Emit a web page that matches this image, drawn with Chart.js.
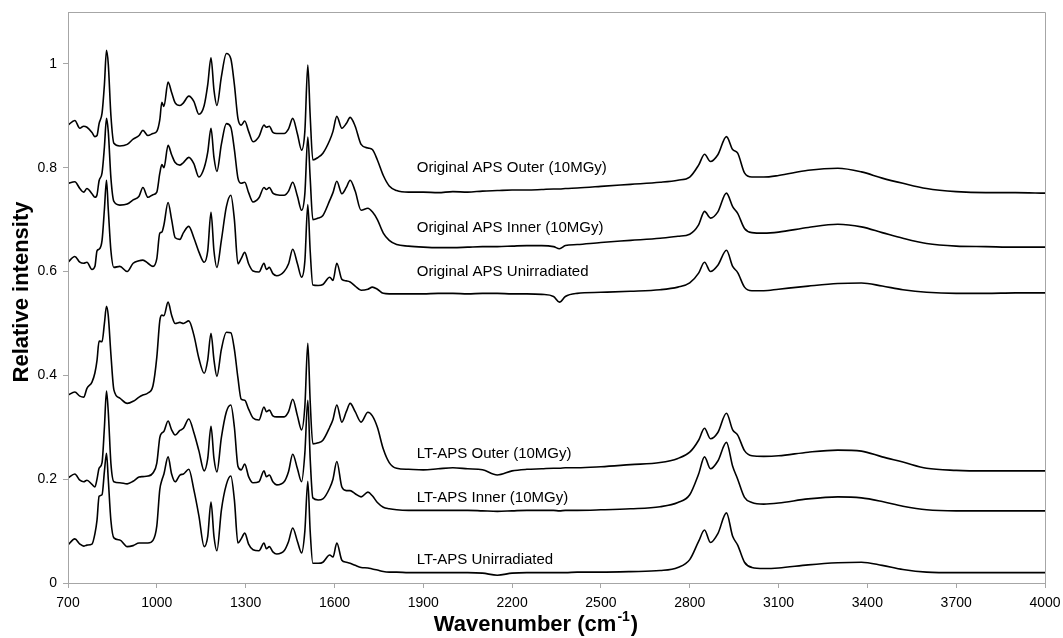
<!DOCTYPE html>
<html>
<head>
<meta charset="utf-8">
<script src="https://cdn.jsdelivr.net/npm/chart.js@4/dist/chart.umd.min.js"></script>
<style>
html,body{margin:0;padding:0;background:#fff;}
canvas{display:block;}
</style>
</head>
<body>
<canvas id="c" width="1063" height="638"></canvas>
<script>
// Wavenumber grid (cm-1)
const wavenumbers = [700,723,740,753,764,781,791,798,805,815,823,830,836,845,855,875,900,920,940,953,970,987,1000,1010,1017,1024,1038,1050,1062,1078,1090,1108,1125,1142,1160,1172,1183,1193,1203,1218,1235,1250,1262,1274,1285,1297,1310,1325,1345,1362,1370,1380,1392,1405,1430,1445,1459,1475,1489,1500,1510,1518,1527,1545,1561,1584,1595,1608,1625,1640,1653,1670,1690,1713,1728,1745,1765,1785,1810,1850,1900,1950,2000,2050,2100,2150,2200,2250,2300,2340,2360,2380,2420,2500,2600,2700,2760,2800,2830,2850,2870,2895,2924,2945,2962,2985,3010,3050,3100,3200,3300,3380,3450,3520,3600,3700,3800,3900,4000];

const origOuter = [0.882,0.891,0.876,0.880,0.878,0.868,0.860,0.862,0.885,0.905,0.960,1.026,1.000,0.900,0.847,0.842,0.845,0.855,0.862,0.872,0.862,0.866,0.870,0.892,0.926,0.918,0.965,0.945,0.925,0.920,0.925,0.938,0.928,0.903,0.920,0.960,1.012,0.950,0.920,0.975,1.020,1.010,0.960,0.895,0.882,0.890,0.870,0.850,0.860,0.882,0.878,0.880,0.868,0.866,0.866,0.875,0.895,0.865,0.834,0.870,0.998,0.900,0.815,0.820,0.828,0.853,0.870,0.899,0.876,0.885,0.897,0.880,0.845,0.838,0.835,0.815,0.785,0.765,0.756,0.753,0.753,0.752,0.754,0.753,0.755,0.756,0.757,0.757,0.758,0.759,0.759,0.760,0.761,0.764,0.768,0.772,0.776,0.782,0.805,0.826,0.812,0.825,0.860,0.835,0.828,0.790,0.782,0.782,0.785,0.795,0.799,0.792,0.780,0.770,0.760,0.754,0.752,0.752,0.751];

const origInner = [0.770,0.773,0.760,0.753,0.760,0.750,0.743,0.748,0.775,0.790,0.840,0.895,0.870,0.780,0.735,0.728,0.730,0.738,0.745,0.762,0.743,0.748,0.753,0.789,0.806,0.800,0.843,0.825,0.810,0.805,0.810,0.820,0.808,0.782,0.800,0.830,0.876,0.820,0.793,0.845,0.885,0.878,0.835,0.780,0.770,0.772,0.752,0.734,0.742,0.762,0.758,0.762,0.751,0.748,0.747,0.755,0.772,0.745,0.718,0.750,0.859,0.780,0.700,0.703,0.708,0.737,0.752,0.774,0.750,0.762,0.776,0.755,0.718,0.722,0.715,0.700,0.674,0.660,0.652,0.649,0.647,0.646,0.646,0.647,0.648,0.648,0.649,0.650,0.650,0.648,0.644,0.650,0.652,0.656,0.660,0.664,0.668,0.672,0.690,0.716,0.703,0.715,0.751,0.725,0.712,0.683,0.675,0.674,0.676,0.685,0.691,0.686,0.675,0.664,0.654,0.649,0.648,0.647,0.647];

const origUnirr = [0.618,0.629,0.618,0.616,0.618,0.604,0.610,0.640,0.643,0.660,0.720,0.776,0.720,0.640,0.608,0.610,0.600,0.616,0.621,0.622,0.616,0.610,0.625,0.674,0.676,0.690,0.733,0.700,0.665,0.662,0.675,0.687,0.665,0.638,0.618,0.640,0.714,0.640,0.608,0.660,0.725,0.747,0.700,0.615,0.625,0.637,0.615,0.601,0.599,0.616,0.604,0.608,0.596,0.592,0.600,0.615,0.643,0.615,0.589,0.620,0.729,0.640,0.574,0.573,0.575,0.589,0.583,0.616,0.585,0.582,0.580,0.572,0.564,0.566,0.570,0.566,0.558,0.557,0.557,0.557,0.557,0.558,0.558,0.557,0.558,0.558,0.557,0.557,0.556,0.552,0.541,0.552,0.558,0.560,0.562,0.565,0.570,0.578,0.597,0.618,0.600,0.612,0.641,0.610,0.598,0.570,0.563,0.563,0.566,0.572,0.577,0.578,0.572,0.565,0.560,0.558,0.558,0.559,0.559];

const ltOuter = [0.362,0.368,0.360,0.358,0.375,0.387,0.405,0.429,0.466,0.465,0.500,0.533,0.515,0.440,0.372,0.356,0.346,0.350,0.358,0.362,0.366,0.380,0.435,0.505,0.516,0.515,0.541,0.516,0.500,0.502,0.500,0.505,0.478,0.433,0.404,0.430,0.481,0.430,0.398,0.450,0.483,0.482,0.450,0.395,0.354,0.352,0.335,0.318,0.314,0.339,0.330,0.333,0.322,0.320,0.320,0.330,0.354,0.322,0.295,0.340,0.462,0.350,0.268,0.270,0.275,0.300,0.315,0.343,0.310,0.330,0.346,0.330,0.310,0.329,0.322,0.300,0.258,0.232,0.221,0.219,0.218,0.220,0.222,0.220,0.218,0.208,0.216,0.219,0.220,0.221,0.221,0.222,0.222,0.224,0.228,0.232,0.240,0.252,0.275,0.298,0.278,0.290,0.327,0.295,0.285,0.255,0.245,0.244,0.245,0.252,0.256,0.254,0.243,0.233,0.221,0.217,0.216,0.216,0.216];

const ltInner = [0.202,0.210,0.198,0.195,0.198,0.190,0.185,0.200,0.221,0.232,0.300,0.370,0.330,0.230,0.195,0.193,0.191,0.196,0.204,0.205,0.206,0.212,0.231,0.280,0.289,0.292,0.312,0.295,0.285,0.294,0.298,0.316,0.290,0.255,0.216,0.240,0.302,0.240,0.214,0.280,0.330,0.343,0.300,0.225,0.218,0.229,0.205,0.193,0.195,0.216,0.205,0.208,0.195,0.189,0.195,0.215,0.248,0.220,0.195,0.250,0.352,0.240,0.164,0.160,0.162,0.183,0.200,0.234,0.185,0.178,0.178,0.172,0.166,0.175,0.168,0.155,0.146,0.143,0.141,0.140,0.140,0.140,0.140,0.140,0.139,0.138,0.139,0.140,0.140,0.140,0.139,0.140,0.140,0.141,0.143,0.147,0.155,0.170,0.210,0.243,0.220,0.235,0.271,0.225,0.200,0.165,0.155,0.152,0.154,0.162,0.166,0.164,0.157,0.148,0.141,0.139,0.139,0.139,0.139];

const ltUnirr = [0.073,0.085,0.075,0.071,0.073,0.075,0.095,0.121,0.167,0.170,0.215,0.250,0.200,0.120,0.087,0.083,0.070,0.072,0.077,0.077,0.077,0.082,0.110,0.180,0.198,0.210,0.243,0.210,0.195,0.208,0.210,0.219,0.180,0.130,0.070,0.090,0.156,0.090,0.062,0.140,0.190,0.206,0.160,0.077,0.085,0.096,0.075,0.064,0.062,0.077,0.066,0.070,0.060,0.056,0.062,0.080,0.106,0.080,0.058,0.100,0.196,0.100,0.038,0.038,0.040,0.054,0.050,0.077,0.044,0.040,0.038,0.034,0.030,0.029,0.027,0.025,0.022,0.021,0.021,0.020,0.020,0.020,0.020,0.020,0.019,0.015,0.019,0.020,0.020,0.020,0.020,0.020,0.021,0.021,0.022,0.024,0.030,0.045,0.080,0.102,0.078,0.095,0.135,0.090,0.073,0.040,0.030,0.028,0.029,0.035,0.039,0.040,0.034,0.026,0.021,0.020,0.020,0.020,0.020];

const seriesValues = [origOuter, origInner, origUnirr, ltOuter, ltInner, ltUnirr];
const seriesNames = ["Original APS Outer (10MGy)","Original APS Inner (10MGy)","Original APS Unirradiated","LT-APS Outer (10MGy)","LT-APS Inner (10MGy)","LT-APS Unirradiated"];
// label anchor positions in data units (wavenumber, intensity)
const labelWn = [1878,1878,1878,1878,1878,1878];
const labelY = [0.799,0.685,0.599,0.248,0.164,0.044];

const xTicks = [700,1000,1300,1600,1900,2200,2500,2800,3100,3400,3700,4000];
const yTicks = [0,0.2,0.4,0.6,0.8,1];
const yTickLabels = ["0","0.2","0.4","0.6","0.8","1"];

const FONT = "'Liberation Sans', Arial, sans-serif";
const AXIS_GREY = '#a6a6a6';

const datasets = seriesValues.map((vals, k) => ({
  label: seriesNames[k],
  data: wavenumbers.map((x, i) => ({x: x, y: vals[i]})),
  borderColor: '#000',
  borderWidth: 1.6,
  pointRadius: 0,
  fill: false,
  cubicInterpolationMode: 'monotone'
}));

const overlay = {
  id: 'overlay',
  afterDraw(chart) {
    const ctx = chart.ctx;
    const a = chart.chartArea;
    const xs = chart.scales.x, ys = chart.scales.y;
    ctx.save();
    // frame
    ctx.strokeStyle = AXIS_GREY;
    ctx.lineWidth = 1;
    ctx.beginPath();
    ctx.moveTo(a.left + 0.5, a.bottom + 0.5);
    ctx.lineTo(a.left + 0.5, a.top + 0.5);
    ctx.lineTo(a.right + 0.5, a.top + 0.5);
    ctx.lineTo(a.right + 0.5, a.bottom + 0.5);
    ctx.stroke();
    // series labels
    ctx.fillStyle = '#000';
    ctx.font = '15px ' + FONT;
    ctx.textAlign = 'left';
    ctx.textBaseline = 'middle';
    seriesNames.forEach((t, k) => {
      ctx.fillText(t, xs.getPixelForValue(labelWn[k]), ys.getPixelForValue(labelY[k]));
    });
    // y title
    ctx.font = 'bold 22px ' + FONT;
    ctx.textAlign = 'center';
    ctx.textBaseline = 'middle';
    ctx.save();
    ctx.translate(22, 292);
    ctx.rotate(-Math.PI / 2);
    ctx.fillText('Relative intensity', 0, 0);
    ctx.restore();
    // x title with superscript
    const main = 'Wavenumber (cm';
    const sup = '-1';
    const close = ')';
    ctx.font = 'bold 22px ' + FONT;
    const w1 = ctx.measureText(main).width;
    const w3 = ctx.measureText(close).width;
    ctx.font = 'bold 14px ' + FONT;
    const w2 = ctx.measureText(sup).width;
    const total = w1 + w2 + w3 + 2;
    let x0 = 536 - total / 2;
    const base = 631;
    ctx.textAlign = 'left';
    ctx.textBaseline = 'alphabetic';
    ctx.font = 'bold 22px ' + FONT;
    ctx.fillText(main, x0, base);
    ctx.font = 'bold 14px ' + FONT;
    ctx.fillText(sup, x0 + w1 + 1, base - 10);
    ctx.font = 'bold 22px ' + FONT;
    ctx.fillText(close, x0 + w1 + w2 + 2, base);
    ctx.restore();
  }
};

new Chart(document.getElementById('c'), {
  type: 'line',
  data: { datasets: datasets },
  options: {
    responsive: false,
    animation: false,
    events: [],
    layout: { padding: { top: 12, right: 18, left: 0, bottom: 0 } },
    plugins: { legend: { display: false }, tooltip: { enabled: false } },
    scales: {
      x: {
        type: 'linear',
        min: 700, max: 4000,
        afterBuildTicks: (ax) => { ax.ticks = xTicks.map(v => ({ value: v })); },
        afterFit: (ax) => { ax.height = 55; ax.paddingLeft = 0; ax.paddingRight = 0; },
        grid: { display: true, drawOnChartArea: false, drawTicks: true, tickLength: 5, color: AXIS_GREY },
        border: { display: true, color: AXIS_GREY, width: 1 },
        ticks: { color: '#000', font: { family: FONT, size: 14 }, padding: 7, maxRotation: 0, autoSkip: false,
                 callback: (v) => String(v) },
        title: { display: false }
      },
      y: {
        type: 'linear',
        min: 0, max: 1.1,
        afterBuildTicks: (ax) => { ax.ticks = yTicks.map(v => ({ value: v })); },
        afterFit: (ax) => { ax.width = 68; ax.paddingTop = 0; ax.paddingBottom = 0; },
        grid: { display: true, drawOnChartArea: false, drawTicks: true, tickLength: 5, color: AXIS_GREY },
        border: { display: true, color: AXIS_GREY, width: 1 },
        ticks: { color: '#000', font: { family: FONT, size: 14 }, padding: 6, autoSkip: false,
                 callback: (v) => { const i = yTicks.findIndex(t => Math.abs(t - v) < 1e-9); return i >= 0 ? yTickLabels[i] : ''; } },
        title: { display: false }
      }
    }
  },
  plugins: [overlay]
});
</script>
</body>
</html>
